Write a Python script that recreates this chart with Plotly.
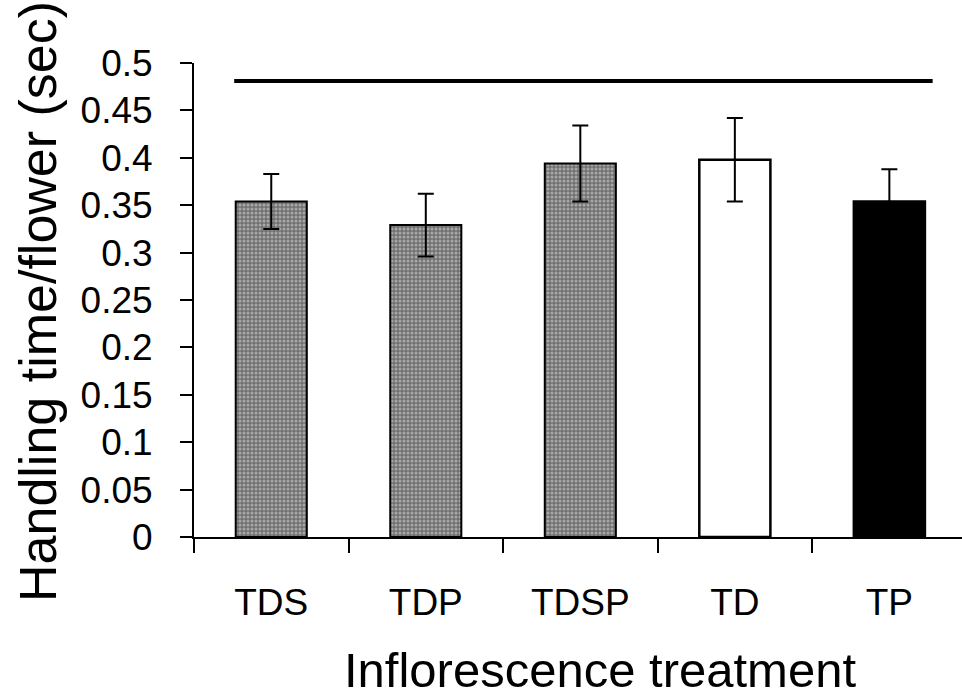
import plotly.graph_objects as go

categories = ["TDS", "TDP", "TDSP", "TD", "TP"]
handling_time = [0.354, 0.329, 0.394, 0.398, 0.354]
std_error = [0.029, 0.033, 0.040, 0.044, 0.034]
bar_fill = ["pattern", "pattern", "pattern", "white", "black"]

ref_line_y = 0.481
ref_line_x = [-0.24, 4.28]

y_ticks = [0, 0.05, 0.1, 0.15, 0.2, 0.25, 0.3, 0.35, 0.4, 0.45, 0.5]
y_ticktext = ["0", "0.05", "0.1", "0.15", "0.2", "0.25", "0.3", "0.35", "0.4", "0.45", "0.5"]

FONT = "Liberation Sans, Arial, sans-serif"

fig = go.Figure()

for i, cat in enumerate(categories):
    kind = bar_fill[i]
    if kind == "pattern":
        marker = dict(
            color="#707070",
            line=dict(color="black", width=2),
            pattern=dict(shape=".", fgcolor="#e0e0e0", bgcolor="#707070",
                         size=4, solidity=0.45, fillmode="overlay"),
        )
    else:
        marker = dict(color=kind, line=dict(color="black", width=2.5))
    fig.add_trace(go.Bar(
        x=[cat], y=[handling_time[i]],
        marker=marker,
        width=0.46,
        error_y=dict(type="data", array=[std_error[i]], visible=True,
                     color="black", thickness=2, width=8),
        showlegend=False,
    ))

fig.add_trace(go.Scatter(
    x=ref_line_x, y=[ref_line_y, ref_line_y], mode="lines",
    line=dict(color="black", width=4), showlegend=False,
    xaxis="x2",
))

x_range = [-0.5, 4.47]

fig.update_layout(
    width=962, height=698,
    margin=dict(l=194, r=0, t=63, b=161),
    paper_bgcolor="white", plot_bgcolor="white",
    font=dict(family=FONT, color="black"),
    bargap=0.54,
    xaxis=dict(
        type="category", categoryorder="array", categoryarray=categories,
        range=x_range,
        showline=True, linecolor="black", linewidth=2,
        ticks="outside", tickson="boundaries", ticklen=14, tickwidth=1.5,
        tickcolor="black",
        tickfont=dict(size=37, family=FONT, color="black"),
        ticklabelstandoff=32,
        showgrid=False, zeroline=False,
    ),
    xaxis2=dict(
        overlaying="x", range=x_range, visible=False, showgrid=False,
        zeroline=False,
    ),
    yaxis=dict(
        range=[0, 0.5],
        tickvals=y_ticks, ticktext=y_ticktext,
        showline=True, linecolor="black", linewidth=2,
        ticks="outside", ticklen=12, tickwidth=1.5, tickcolor="black",
        tickfont=dict(size=37, family=FONT, color="black"),
        ticklabelstandoff=20,
        showgrid=False, zeroline=False,
    ),
    annotations=[
        dict(
            text="Inflorescence treatment", xref="paper", yref="paper",
            x=(600 - 194) / 768, y=-(670 - 537) / 474,
            xanchor="center", yanchor="middle", showarrow=False,
            font=dict(size=49, family=FONT, color="black"),
        ),
        dict(
            text="Handling time/flower (sec)", xref="paper", yref="paper",
            x=-(194 - 38) / 768, y=(537 - 302) / 474,
            xanchor="center", yanchor="middle", showarrow=False,
            textangle=-90,
            font=dict(size=52, family=FONT, color="black"),
        ),
    ],
)

fig.write_html("out.html")
